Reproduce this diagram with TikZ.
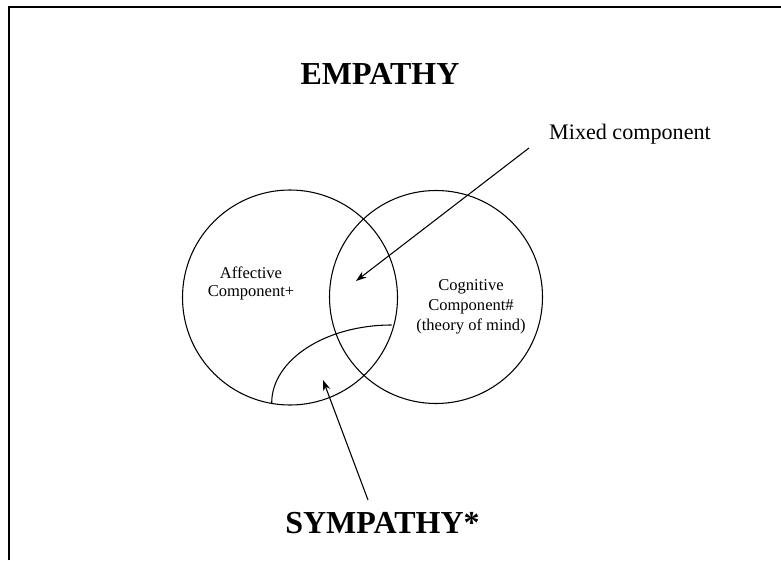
\documentclass[tikz,border=0pt]{standalone}
\usepackage{fontspec}
\setmainfont{Liberation Serif}
\usetikzlibrary{arrows.meta}
\begin{document}
\begin{tikzpicture}[x=0.75pt,y=-0.75pt,
  venn/.style={circle, draw, line width=0.8pt, inner sep=0pt},
  titletext/.style={font=\fontsize{24}{28}\selectfont\bfseries, inner sep=0pt},
  lbl/.style={font=\fontsize{12.4}{14.5}\selectfont, align=center, inner sep=0pt},
  mixlbl/.style={font=\fontsize{16.6}{20}\selectfont, inner sep=0pt},
  arr/.style={-{Stealth[length=8pt,width=5.5pt]}, line width=0.8pt},
  framestyle/.style={line width=1.5pt}]
\useasboundingbox (0,0) rectangle (781,560);
\fill[white] (0,0) rectangle (781,560);
% frame (top and left edges only)
\draw[framestyle] (9,560) -- (9,7) -- (781,7);
% titles
\node[titletext, anchor=base] (empathy) at (380,84.3) {EMPATHY};
\node[titletext, anchor=base] (sympathy) at (382.5,533.3) {SYMPATHY*};
\node[mixlbl, anchor=base] (mixed) at (630,139) {Mixed component};
% circles
\node[venn, minimum size=161.25pt] (aff) at (290,297.5) {};
\node[venn, minimum size=159.75pt] (cog) at (436,297) {};
% sympathy region arc
\draw[line width=0.8pt] (271.7,403) arc[start angle=180, end angle=90, x radius=90pt, y radius=58.5pt];
% labels
\node[lbl, font=\fontsize{12.4}{13.8}\selectfont] (afflbl) at (251,283.5) {Affective\\Component+};
\node[lbl, font=\fontsize{12.4}{14.8}\selectfont] (coglbl) at (471,307) {Cognitive\\Component\#\\(theory of mind)};
% arrows
\coordinate (mixstart) at (529,148);
\coordinate (mixtip) at (356,281);
\coordinate (symstart) at (368,500);
\coordinate (symtip) at (323,380);
\draw[arr] (mixstart) -- (mixtip);
\draw[arr] (symstart) -- (symtip);
\end{tikzpicture}
\end{document}
